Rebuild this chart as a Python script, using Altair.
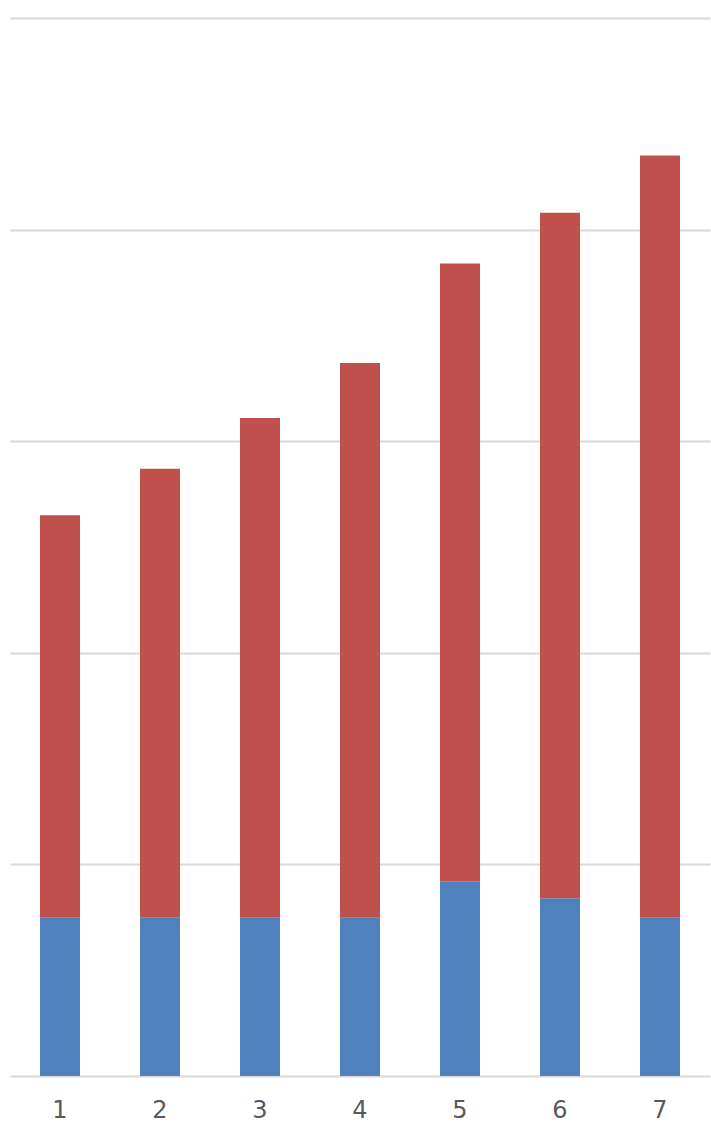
import altair as alt
import pandas as pd

categories = ["1", "2", "3", "4", "5", "6", "7"]
base_values = [0.75, 0.75, 0.75, 0.75, 0.92, 0.84, 0.75]
top_values = [1.90, 2.12, 2.36, 2.62, 2.92, 3.24, 3.60]

rows = []
for c, b, t in zip(categories, base_values, top_values):
    rows.append({"cat": c, "series": "base", "value": b, "rank": 0})
    rows.append({"cat": c, "series": "top", "value": t, "rank": 1})
df = pd.DataFrame(rows)

chart = (
    alt.Chart(df)
    .mark_bar()
    .encode(
        x=alt.X(
            "cat:N",
            sort=categories,
            scale=alt.Scale(paddingInner=0.6, paddingOuter=0.3),
            axis=alt.Axis(
                title=None,
                labelAngle=0,
                ticks=False,
                domain=False,
                grid=False,
                labelFontSize=24,
                labelColor="#595959",
                labelFont="DejaVu Sans",
                labelPadding=22,
            ),
        ),
        y=alt.Y(
            "value:Q",
            stack="zero",
            scale=alt.Scale(domain=[0, 5], nice=False),
            axis=alt.Axis(
                title=None,
                labels=False,
                ticks=False,
                domain=False,
                values=[0, 1, 2, 3, 4, 5],
                gridColor="#D9D9D9",
                gridWidth=2,
            ),
        ),
        color=alt.Color(
            "series:N",
            scale=alt.Scale(domain=["base", "top"], range=["#4F81BD", "#C0504D"]),
            legend=None,
        ),
        order=alt.Order("rank:Q"),
    )
    .properties(
        width=700,
        height=1058,
        background="white",
        autosize=alt.AutoSizeParams(type="none"),
        padding={"left": 10, "top": 18, "right": 1, "bottom": 47},
    )
    .configure_view(strokeWidth=0, stroke=None)
)

chart.save("out.html", embed_options={"renderer": "svg", "actions": False})
